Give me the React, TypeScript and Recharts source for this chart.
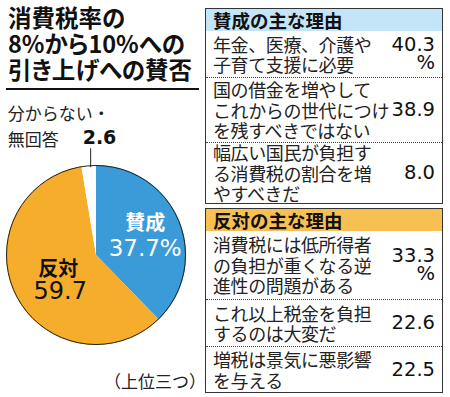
import { PieChart, Pie, Cell } from 'recharts'

const shareLabels = ['賛成', '反対', '分からない・無回答']
const shareValues = [37.7, 59.7, 2.6]

const proReasons = [
  ['年金、医療、介護や', '子育て支援に必要'],
  ['国の借金を増やして', 'これからの世代につけ', 'を残すべきではない'],
  ['幅広い国民が負担す', 'る消費税の割合を増', 'やすべきだ'],
]
const proValues = [40.3, 38.9, 8.0]

const conReasons = [
  ['消費税には低所得者', 'の負担が重くなる逆', '進性の問題がある'],
  ['これ以上税金を負担', 'するのは大変だ'],
  ['増税は景気に悪影響', 'を与える'],
]
const conValues = [33.3, 22.6, 22.5]

const titleLines = ['消費税率の', '8%から10%への', '引き上げへの賛否']

const JP = '"Noto Sans CJK JP", sans-serif'
const NUM = '"DejaVu Sans", sans-serif'
const RAD = Math.PI / 180

const pieData = shareLabels.map((name, i) => ({ name, value: shareValues[i] }))
const sliceColors = ['#3b9ad8', '#f6ad2b', '#ffffff']

const renderLabel = (props: any) => {
  const { cx, cy, midAngle, outerRadius, index, name, value } = props
  if (index === 2) {
    const px = cx + outerRadius * Math.cos(-midAngle * RAD)
    const py = cy + outerRadius * Math.sin(-midAngle * RAD)
    const [l1, l2] = name.split('・')
    return (
      <g>
        <line x1={px + 2} y1={py + 2} x2={px + 2} y2={py - 17} stroke="#222" strokeWidth={1} />
        <text x={px - 81} y={py - 53} fontSize={17} fontFamily={JP} fill="#222" dominantBaseline="central">{l1 + '・'}</text>
        <text x={px - 81} y={py - 27} fontSize={17} fontFamily={JP} fill="#222" dominantBaseline="central">{l2}</text>
        <text x={px - 6} y={py - 28} fontSize={19} fontFamily={NUM} fontWeight={700} fill="#111" dominantBaseline="central">{value.toFixed(1)}</text>
      </g>
    )
  }
  const r = outerRadius * (index === 0 ? 0.59 : 0.47)
  const x = cx + r * Math.cos(-midAngle * RAD)
  const y = cy + r * Math.sin(-midAngle * RAD) + (index === 0 ? 0 : 5)
  const color = index === 0 ? '#fff' : '#111'
  const gap = index === 0 ? 13.5 : 11.5
  return (
    <g>
      <text x={x} y={y - gap} textAnchor="middle" fontSize={20} fontWeight={700} fontFamily={JP} fill={color} dominantBaseline="central">{name}</text>
      <text x={x + (index === 0 ? 0 : 2)} y={y + gap} textAnchor="middle" fontSize={index === 0 ? 23 : 24} fontFamily={NUM} fill={color} dominantBaseline="central">
        {value.toFixed(1) + (index === 0 ? '%' : '')}
      </text>
    </g>
  )
}

function ReasonBox({ title, headerColor, reasons, values, top, rowHeights }: any) {
  return (
    <div style={{ position: 'absolute', left: 205, top, width: 238, border: '1.5px solid #333', boxSizing: 'border-box', background: '#fff' }}>
      <div style={{ height: 22, background: headerColor, fontWeight: 700, fontSize: 18.5, lineHeight: '22px', paddingLeft: 7, color: '#111' }}>{title}</div>
      {reasons.map((lines: string[], i: number) => (
        <div
          key={i}
          style={{
            height: rowHeights[i],
            boxSizing: 'border-box',
            borderTop: i ? '1px dotted #444' : 'none',
            display: 'flex',
            alignItems: 'center',
            justifyContent: 'space-between',
            padding: '0 7px 0 7px',
          }}
        >
          <div style={{ fontSize: 18, lineHeight: '20.5px', letterSpacing: -0.4, color: '#222', whiteSpace: 'nowrap' }}>
            {lines.map((l, j) => <div key={j}>{l}</div>)}
          </div>
          <div style={{ fontFamily: NUM, fontSize: 19.5, lineHeight: '18px', color: '#111', textAlign: 'right' }}>
            <div>{values[i].toFixed(1)}</div>
            {i === 0 && <div>%</div>}
          </div>
        </div>
      ))}
    </div>
  )
}

export default function App() {
  return (
    <div style={{ position: 'absolute', left: 0, top: 0, width: 450, height: 397, background: '#fff', fontFamily: JP, overflow: 'hidden' }}>
      <div style={{ position: 'absolute', left: 8, top: 4, fontSize: 23.5, lineHeight: '26px', fontWeight: 700, color: '#111', fontFeatureSettings: '"palt"' }}>
        {titleLines.map((l, i) => <div key={i}>{l}</div>)}
      </div>
      <div style={{ position: 'absolute', left: 6, top: 88, width: 193, height: 2, background: '#111' }} />

      <div style={{ position: 'absolute', left: 0, top: 0 }}>
        <PieChart width={205} height={397} margin={{ top: 0, right: 0, bottom: 0, left: 0 }}>
          <Pie
            data={pieData}
            dataKey="value"
            nameKey="name"
            cx={96}
            cy={255}
            outerRadius={90}
            startAngle={90}
            endAngle={-270}
            stroke="none"
            label={renderLabel}
            labelLine={false}
            isAnimationActive={false}
          >
            {pieData.map((d, i) => <Cell key={d.name} fill={sliceColors[i]} />)}
          </Pie>
        </PieChart>
      </div>
      <div style={{ position: 'absolute', left: 6, top: 165, width: 180, height: 180, borderRadius: '50%', border: '1px solid #222', boxSizing: 'border-box', pointerEvents: 'none' }} />

      <div style={{ position: 'absolute', left: 104, top: 370, fontSize: 17, lineHeight: '22px', color: '#222' }}>（上位三つ）</div>

      <ReasonBox title="賛成の主な理由" headerColor="#c4e4f7" reasons={proReasons} values={proValues} top={8} rowHeights={[46, 65, 61]} />
      <ReasonBox title="反対の主な理由" headerColor="#f7c053" reasons={conReasons} values={conValues} top={208} rowHeights={[68, 47, 46]} />
    </div>
  )
}
